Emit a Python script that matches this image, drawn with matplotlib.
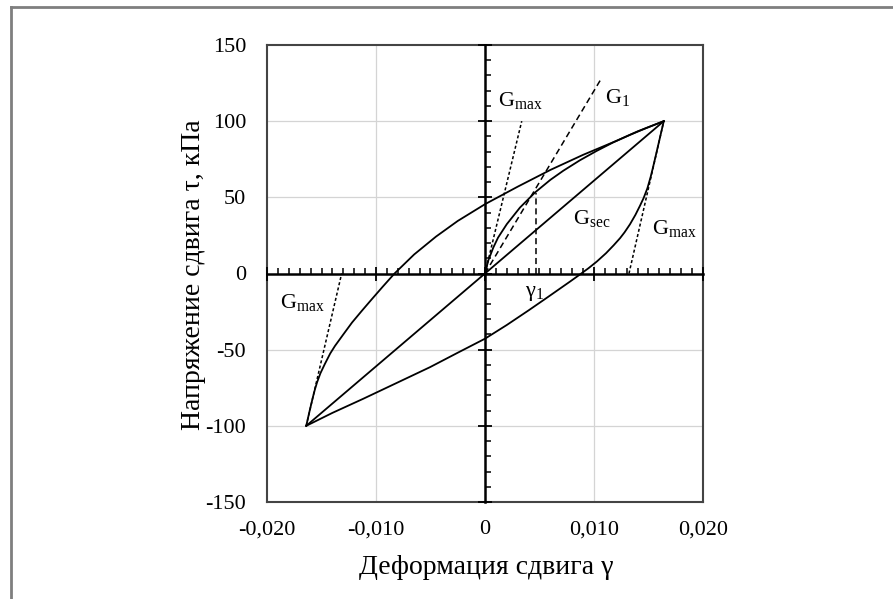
import matplotlib
matplotlib.use("Agg")
import matplotlib.pyplot as plt
from matplotlib.lines import Line2D
from matplotlib.ticker import MultipleLocator

plt.rcParams["font.family"] = ["Liberation Serif", "DejaVu Serif"]
plt.rcParams["mathtext.fontset"] = "custom"
plt.rcParams["mathtext.rm"] = "Liberation Serif"
plt.rcParams["mathtext.it"] = "Liberation Serif"
plt.rcParams["axes.unicode_minus"] = False

# axis ticks
x_ticks = [-0.02, -0.01, 0.0, 0.01, 0.02]
x_tick_labels = ["-0,020", "-0,010", "0", "0,010", "0,020"]
y_ticks = [-150, -100, -50, 0, 50, 100, 150]
y_tick_labels = ["-150", "-100", "-50", "0", "50", "100", "150"]

# backbone (initial loading) curve
backbone_x = [0.0, 0.0003, 0.00076, 0.0012, 0.002, 0.00321, 0.00459, 0.006, 0.00719,
              0.0087, 0.01025, 0.0118, 0.0133, 0.0148, 0.0164]
backbone_y = [0.0, 8.5, 17.0, 23.6, 32.4, 43.3, 53.2, 61.5, 67.5,
              74.3, 80.5, 86.2, 91.0, 95.5, 100.0]

# upper branch of the loop (reloading from -100)
upper_x = [-0.0164, -0.0161, -0.0158, -0.0156, -0.0154, -0.0151, -0.0147, -0.0142,
           -0.01376, -0.0130, -0.0122, -0.0113, -0.0104, -0.0094, -0.0083, -0.0065,
           -0.0045, -0.0025, 0.0, 0.003, 0.006, 0.009, 0.012, 0.014, 0.0164]
upper_y = [-100.0, -90.5, -81.5, -76.0, -71.3, -65.5, -59.5, -52.5,
           -47.5, -40.0, -32.2, -24.5, -17.0, -8.8, 0.0, 12.5,
           24.2, 34.5, 45.5, 57.0, 68.0, 77.9, 86.9, 93.3, 100.0]

# lower branch of the loop (unloading from +100)
lower_x = [0.0164, 0.0161, 0.0158, 0.0156, 0.0154, 0.0152, 0.0149, 0.01455, 0.01422,
           0.0138, 0.0133, 0.0128, 0.01239, 0.0118, 0.0111, 0.01025, 0.0095, 0.0087,
           0.0078, 0.0069, 0.0055, 0.0040, 0.0020, 0.0, -0.0025, -0.00505, -0.008,
           -0.01116, -0.014, -0.0164]
lower_y = [100.0, 90.7, 81.5, 75.3, 69.3, 63.5, 56.0, 49.5, 44.5,
           38.5, 32.3, 27.0, 23.2, 18.5, 13.3, 7.8, 3.5, -0.7,
           -5.3, -9.8, -16.8, -24.2, -33.8, -42.8, -52.0, -61.5, -71.5,
           -82.2, -91.5, -100.0]

# secant modulus line
sec_x = [-0.0164, 0.0164]
sec_y = [-100.0, 100.0]

# dashed construction lines
gmax0_x = [0.0, 0.00337]
gmax0_y = [0.0, 100.0]
g1_x = [0.0, 0.01073]
g1_y = [0.0, 128.7]
gamma1_x = [0.00468, 0.00468]
gamma1_y = [0.0, 53.0]
gmax_r_x = [0.01321, 0.0164]
gmax_r_y = [0.0, 100.0]
gmax_l_x = [-0.0164, -0.01315]
gmax_l_y = [-100.0, 0.0]


def plot_loop():
    W, H = 893, 599
    fig = plt.figure(figsize=(W / 100, H / 100), dpi=100)

    # grey frame of the picture
    fig.add_artist(Line2D([11 / W, 11 / W], [0, 1 - 7 / H], color="#7f7f7f", lw=2.0))
    fig.add_artist(Line2D([11 / W, 1], [1 - 7 / H, 1 - 7 / H], color="#7f7f7f", lw=2.0))

    pos = [267 / W, 1 - 502 / H, (703 - 267) / W, (502 - 45) / H]
    ax = fig.add_axes(pos)
    ax.set_xlim(-0.02, 0.02)
    ax.set_ylim(-150, 150)
    for s in ax.spines.values():
        s.set_color("#444444")
        s.set_linewidth(1.5)
    ax.set_xticks(x_ticks)
    ax.set_xticklabels(x_tick_labels, fontsize=16)
    ax.set_yticks(y_ticks)
    ax.set_yticklabels(y_tick_labels, fontsize=16)
    ax.tick_params(length=0)
    ax.tick_params(axis="y", pad=15)
    ax.tick_params(axis="x", pad=13)
    for v in [-0.01, 0.01]:
        ax.axvline(v, color="#d4d4d4", lw=0.9, zorder=0)
    for v in [-100, -50, 50, 100]:
        ax.axhline(v, color="#d4d4d4", lw=0.9, zorder=0)

    lw = 1.3
    ax.plot(backbone_x, backbone_y, color="black", lw=lw)
    ax.plot(upper_x, upper_y, color="black", lw=lw)
    ax.plot(lower_x, lower_y, color="black", lw=lw)
    ax.plot(sec_x, sec_y, color="black", lw=lw)

    fine = (0, (2.0, 1.5))
    ax.plot(gmax0_x, gmax0_y, color="black", lw=1.1, ls=fine)
    ax.plot(gmax_r_x, gmax_r_y, color="black", lw=1.1, ls=fine)
    ax.plot(gmax_l_x, gmax_l_y, color="black", lw=1.1, ls=fine)
    ax.plot(g1_x, g1_y, color="black", lw=1.1, ls=(0, (4, 2.5)))
    ax.plot(gamma1_x, gamma1_y, color="black", lw=1.1, ls=(0, (4, 2.5)))

    fs = 16
    ax.text(0.00119, 110, r"$\mathrm{G}_{\mathrm{max}}$", fontsize=fs, va="baseline")
    ax.text(0.0110, 112, r"$\mathrm{G}_{1}$", fontsize=fs, va="baseline")
    ax.text(0.00807, 32.6, r"$\mathrm{G}_{\mathrm{sec}}$", fontsize=fs, va="baseline")
    ax.text(0.01532, 26, r"$\mathrm{G}_{\mathrm{max}}$", fontsize=fs, va="baseline")
    ax.text(-0.0188, -22.5, r"$\mathrm{G}_{\mathrm{max}}$", fontsize=fs, va="baseline")
    ax.text(0.00367, -14.6, r"$\mathrm{γ}_{1}$", fontsize=fs, va="baseline")

    # axes through zero with cross ticks
    ax2 = fig.add_axes(pos)
    ax2.set_xlim(-0.02, 0.02)
    ax2.set_ylim(-150, 150)
    ax2.patch.set_visible(False)
    ax2.spines["top"].set_visible(False)
    ax2.spines["right"].set_visible(False)
    ax2.spines["left"].set_position(("data", 0))
    ax2.spines["bottom"].set_position(("data", 0))
    for k in ["left", "bottom"]:
        ax2.spines[k].set_color("black")
        ax2.spines[k].set_linewidth(1.8)
    ax2.xaxis.set_major_locator(MultipleLocator(0.01))
    ax2.xaxis.set_minor_locator(MultipleLocator(0.001))
    ax2.yaxis.set_major_locator(MultipleLocator(50))
    ax2.yaxis.set_minor_locator(MultipleLocator(10))
    ax2.tick_params(which="major", direction="inout", length=10, width=1.3,
                    labelbottom=False, labelleft=False)
    ax2.tick_params(which="minor", direction="in", length=4.5, width=1.1)

    fig.text(486 / W, 1 - 567 / H, "Деформация сдвига γ", fontsize=20,
             ha="center", va="center")
    fig.text(193 / W, 1 - 275 / H, "Напряжение сдвига τ, кПа", fontsize=20,
             ha="center", va="center", rotation=90)

    fig.savefig("out.png", dpi=100, facecolor="white")


if __name__ == "__main__":
    plot_loop()
